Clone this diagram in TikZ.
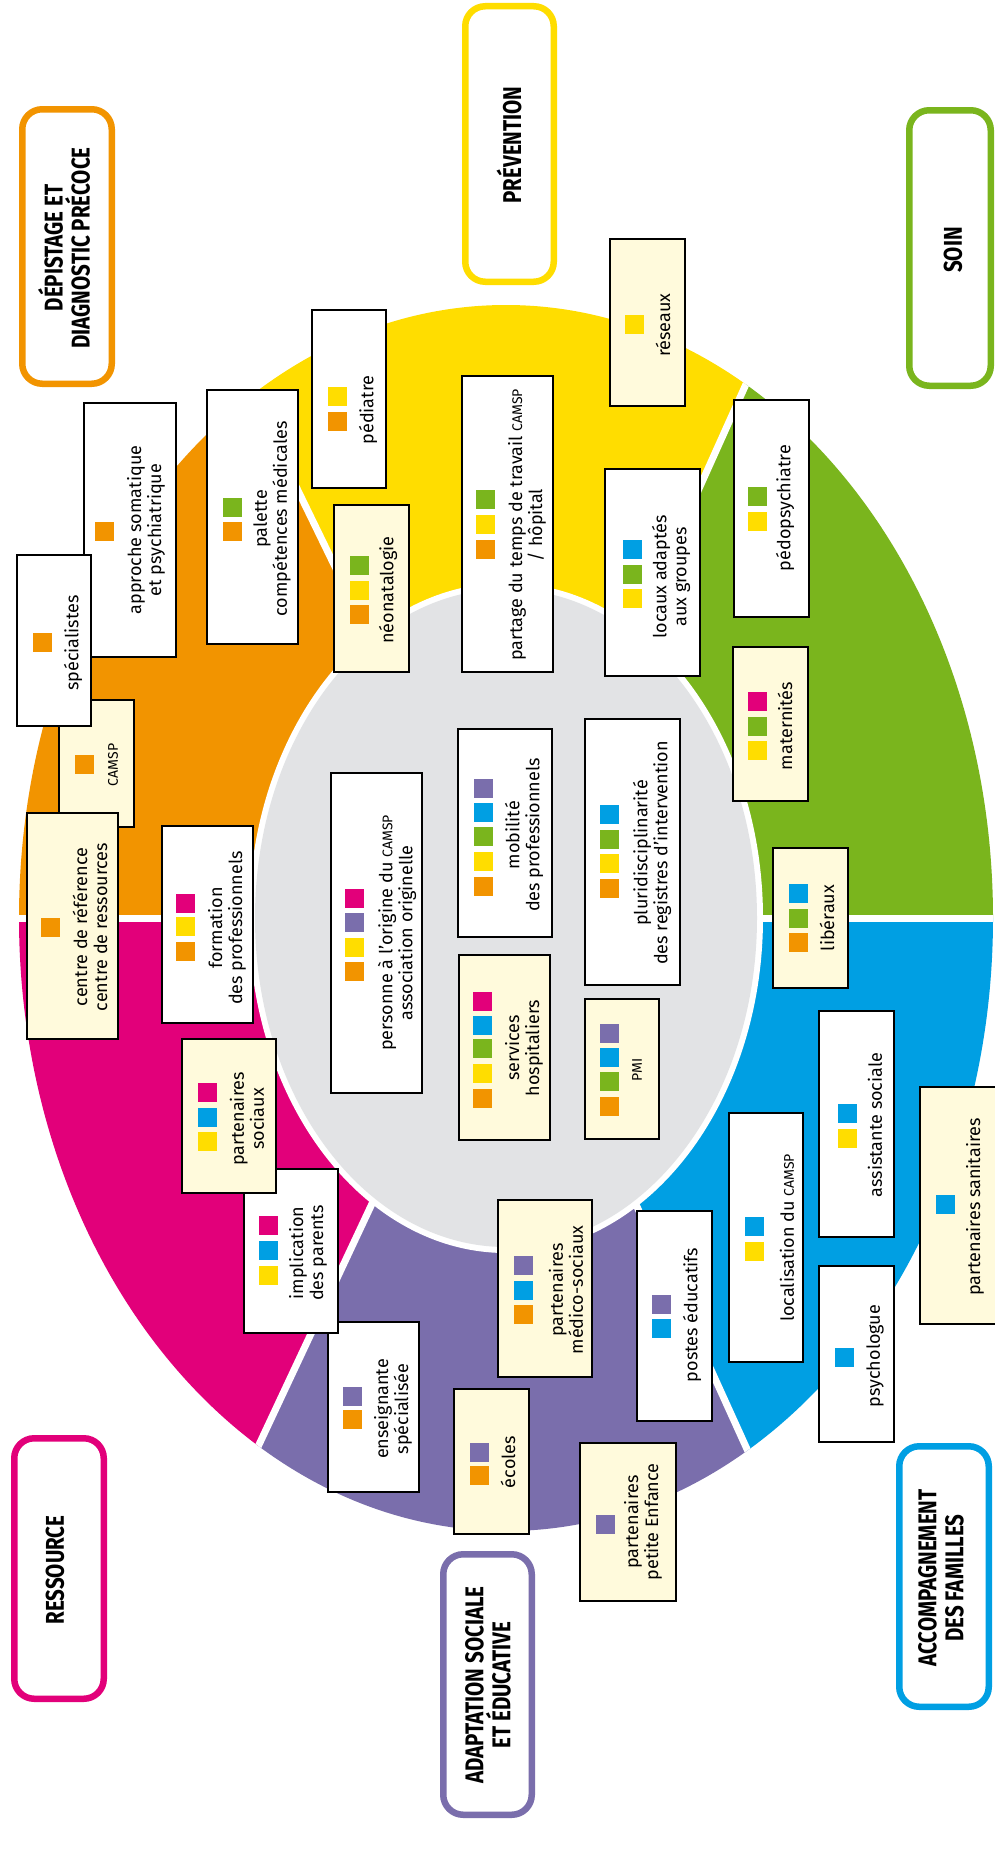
\documentclass[tikz,border=0pt]{standalone}
\usepackage{fontspec}
\setmainfont{Fira Sans}
\newfontfamily\titlefont[FakeStretch=0.8]{Fira Sans}
\definecolor{cO}{RGB}{242,148,0}
\definecolor{cY}{RGB}{255,221,0}
\definecolor{cG}{RGB}{122,181,29}
\definecolor{cB}{RGB}{0,159,227}
\definecolor{cP}{RGB}{122,110,172}
\definecolor{cM}{RGB}{226,0,122}
\definecolor{cCream}{RGB}{255,250,220}
\definecolor{cGrey}{RGB}{226,227,229}
\newcommand\bx[6]{\node[boxst, fill=#6, minimum width={(#4-#2-2)*1pt}, minimum height={(#5-#3-2)*1pt}] (#1) at ({(#2+#4)/2},{(#3+#5)/2}) {};}
\newcommand\sq[3]{\fill[#3] (#1,#2) rectangle ++(19,19);}
\newcommand\sm[1]{{\fontsize{14}{16}\selectfont #1}}
\newcommand\ttlbox[6]{\node[titlebox=#6, minimum width={(#4-#2-6.5)*1pt}, minimum height={(#5-#3-6.5)*1pt}] (#1) at ({(#2+#4)/2},{(#3+#5)/2}) {};}
\tikzset{
  boxst/.style={draw=black, line width=2pt, inner sep=0pt, outer sep=0pt, rectangle},
  txt/.style={rotate=90, align=center, font=\fontsize{18}{20}\selectfont, inner sep=0pt},
  ttl/.style={rotate=90, align=center, font=\titlefont\bfseries\fontsize{25.7}{27}\selectfont, inner sep=0pt},
  titlebox/.style={draw=#1, line width=6.5pt, rounded corners=20pt, fill=white, inner sep=0pt, rectangle}
}
\begin{document}
\begin{tikzpicture}[x=1pt,y=-1pt]
\useasboundingbox (0,0) rectangle (994,1852);
\fill[white] (0,0) rectangle (994,1852);
\coordinate (C) at (506,918);
\coordinate (pYG) at (916,6);
\coordinate (pOY) at (68,18);
\coordinate (pOM) at (-500,918);
\coordinate (pMP) at (82,1822);
\coordinate (pPB) at (918,1826);
\coordinate (pBG) at (1506,918);
\begin{scope}
\clip (C) ellipse [x radius=487, y radius=613];
\fill[cY] (C) -- (pYG) -- (pOY) -- cycle;
\fill[cO] (C) -- (pOY) -- (-500,18) -- (pOM) -- cycle;
\fill[cM] (C) -- (pOM) -- (-500,1822) -- (pMP) -- cycle;
\fill[cP] (C) -- (pMP) -- (pPB) -- cycle;
\fill[cB] (C) -- (pPB) -- (1506,1826) -- (pBG) -- cycle;
\fill[cG] (C) -- (pBG) -- (1506,6) -- (pYG) -- cycle;
\foreach \p in {pYG,pOY,pOM,pMP,pPB,pBG} \draw[white, line width=7pt] (C) -- (\p);
\end{scope}
\fill[white] (C) ellipse [x radius=257, y radius=335];
\fill[cGrey] (C) ellipse [x radius=251, y radius=329];

% --- boxes ---
\bx{approche}{83}{402}{177}{658}{white}
\sq{95}{522}{cO}
\node[txt] (tapproche) at (146,530) {approche somatique\\et psychiatrique};

\bx{palette}{206}{389}{299}{645}{white}
\sq{223}{498}{cG}\sq{223}{522}{cO}
\node[txt] (tpalette) at (272,519) {palette\\compétences médicales};

\bx{pediatre}{311}{309}{387}{489}{white}
\sq{328}{387}{cY}\sq{328}{412}{cO}
\node[txt] (tpediatre) at (368,410) {pédiatre};

\bx{neonat}{333}{504}{410}{673}{cCream}
\sq{350}{556}{cG}\sq{350}{581}{cY}\sq{350}{605}{cO}
\node[txt] (tneonat) at (388,590) {néonatalogie};

\bx{partage}{461}{375}{554}{673}{white}
\sq{476}{490}{cG}\sq{476}{515}{cY}\sq{476}{540}{cO}
\node[txt] (tpartage) at (527,525) {partage du temps de travail \sm{CAMSP}\\/ hôpital};

\bx{reseaux}{609}{238}{686}{407}{cCream}
\sq{625}{315}{cY}
\node[txt] (treseaux) at (663,325) {réseaux};

\bx{locaux}{604}{468}{701}{677}{white}
\sq{623}{540}{cB}\sq{623}{565}{cG}\sq{623}{589}{cY}
\node[txt] (tlocaux) at (671,577) {locaux adaptés\\aux groupes};

\bx{pedopsy}{733}{399}{810}{618}{white}
\sq{748}{487}{cG}\sq{748}{512}{cY}
\node[txt] (tpedopsy) at (785,508) {pédopsychiatre};

\bx{maternites}{732}{646}{809}{802}{cCream}
\sq{748}{692}{cM}\sq{748}{717}{cG}\sq{748}{741}{cY}
\node[txt] (tmaternites) at (785,726) {maternités};

\bx{liberaux}{772}{847}{849}{989}{cCream}
\sq{789}{884}{cB}\sq{789}{909}{cG}\sq{789}{933}{cO}
\node[txt] (tliberaux) at (827,918) {libéraux};

\bx{assistante}{818}{1010}{895}{1238}{white}
\sq{838}{1104}{cB}\sq{838}{1129}{cY}
\node[txt] (tassistante) at (875,1125) {assistante sociale};

\bx{sanitaires}{919}{1086}{1002}{1325}{cCream}
\sq{936}{1195}{cB}
\node[txt] (tsanitaires) at (975,1207) {partenaires sanitaires};

\bx{localisation}{728}{1112}{804}{1363}{white}
\sq{745}{1217}{cB}\sq{745}{1242}{cY}
\node[txt] (tlocalisation) at (787,1238) {localisation du \sm{CAMSP}};

\bx{psychologue}{818}{1265}{895}{1443}{white}
\sq{835}{1348}{cB}
\node[txt] (tpsychologue) at (875,1356) {psychologue};

\bx{postes}{636}{1210}{713}{1422}{white}
\sq{652}{1295}{cP}\sq{652}{1319}{cB}
\node[txt] (tpostes) at (692,1315) {postes éducatifs};

\bx{medico}{497}{1199}{593}{1378}{cCream}
\sq{514}{1256}{cP}\sq{514}{1281}{cB}\sq{514}{1305}{cO}
\node[txt] (tmedico) at (566,1290) {partenaires\\médico-sociaux};

\bx{ecoles}{453}{1388}{530}{1535}{cCream}
\sq{470}{1443}{cP}\sq{470}{1466}{cO}
\node[txt] (tecoles) at (508,1462) {écoles};

\bx{petiteenf}{579}{1442}{677}{1602}{cCream}
\sq{596}{1515}{cP}
\node[txt] (tpetiteenf) at (643,1522) {partenaires\\petite Enfance};

\bx{enseignante}{327}{1321}{420}{1493}{white}
\sq{343}{1387}{cP}\sq{343}{1410}{cO}
\node[txt] (tenseignante) at (393,1409) {enseignante\\spécialisée};

\bx{implication}{243}{1168}{339}{1334}{white}
\sq{259}{1216}{cM}\sq{259}{1241}{cB}\sq{259}{1266}{cY}
\node[txt] (timplication) at (308,1253) {implication\\des parents};

\bx{partsociaux}{181}{1038}{277}{1194}{cCream}
\sq{198}{1083}{cM}\sq{198}{1108}{cB}\sq{198}{1132}{cY}
\node[txt] (tpartsociaux) at (247,1119) {partenaires\\sociaux};

\bx{formation}{161}{825}{254}{1024}{white}
\sq{176}{894}{cM}\sq{176}{917}{cY}\sq{176}{942}{cO}
\node[txt] (tformation) at (227,928) {formation\\des professionnels};

\bx{camsp}{58}{699}{135}{828}{cCream}
\sq{75}{755}{cO}
\node[txt] (tcamsp) at (113,765) {\sm{CAMSP}};

\bx{specialistes}{16}{554}{92}{727}{white}
\sq{33}{633}{cO}
\node[txt] (tspecialistes) at (73,643) {spécialistes};

\bx{centreref}{26}{812}{119}{1040}{cCream}
\sq{41}{918}{cO}
\node[txt] (tcentreref) at (90,927) {centre de référence\\centre de ressources};

\bx{personne}{330}{772}{423}{1094}{white}
\sq{345}{889}{cM}\sq{345}{913}{cP}\sq{345}{938}{cY}\sq{345}{962}{cO}
\node[txt] (tpersonne) at (397,933) {personne à l'origine du \sm{CAMSP}\\association originelle};

\bx{mobilite}{457}{728}{553}{938}{white}
\sq{474}{779}{cP}\sq{474}{803}{cB}\sq{474}{827}{cG}\sq{474}{852}{cY}\sq{474}{877}{cO}
\node[txt] (tmobilite) at (524,835) {mobilité\\des professionnels};

\bx{services}{458}{954}{551}{1141}{cCream}
\sq{473}{992}{cM}\sq{473}{1016}{cB}\sq{473}{1039}{cG}\sq{473}{1064}{cY}\sq{473}{1089}{cO}
\node[txt] (tservices) at (524,1048) {services\\hospitaliers};

\bx{pluri}{584}{718}{681}{986}{white}
\sq{600}{805}{cB}\sq{600}{830}{cG}\sq{600}{854}{cY}\sq{600}{879}{cO}
\node[txt] (tpluri) at (652,853) {pluridisciplinarité\\des registres d'intervention};

\bx{pmi}{584}{998}{660}{1140}{cCream}
\sq{600}{1024}{cP}\sq{600}{1048}{cB}\sq{600}{1072}{cG}\sq{600}{1097}{cO}
\node[txt] (tpmi) at (637,1070) {\sm{PMI}};

% --- titles ---
\ttlbox{bdep}{19}{106}{115}{387}{cO}
\node[ttl] (tdep) at (64,248) {DÉPISTAGE ET\\DIAGNOSTIC PRÉCOCE};
\ttlbox{bprev}{462}{3}{557}{285}{cY}
\node[ttl] (tprev) at (509,145) {PRÉVENTION};
\ttlbox{bsoin}{906}{107}{994}{389}{cG}
\node[ttl] (tsoin) at (953,250) {SOIN};
\ttlbox{bress}{11}{1435}{107}{1702}{cM}
\node[ttl] (tress) at (55,1570) {RESSOURCE};
\ttlbox{badapt}{440}{1551}{535}{1818}{cP}
\node[ttl] (tadapt) at (488,1685) {ADAPTATION SOCIALE\\ET ÉDUCATIVE};
\ttlbox{baccomp}{896}{1443}{992}{1710}{cB}
\node[ttl] (taccomp) at (941,1578) {ACCOMPAGNEMENT\\DES FAMILLES};
\end{tikzpicture}
\end{document}
